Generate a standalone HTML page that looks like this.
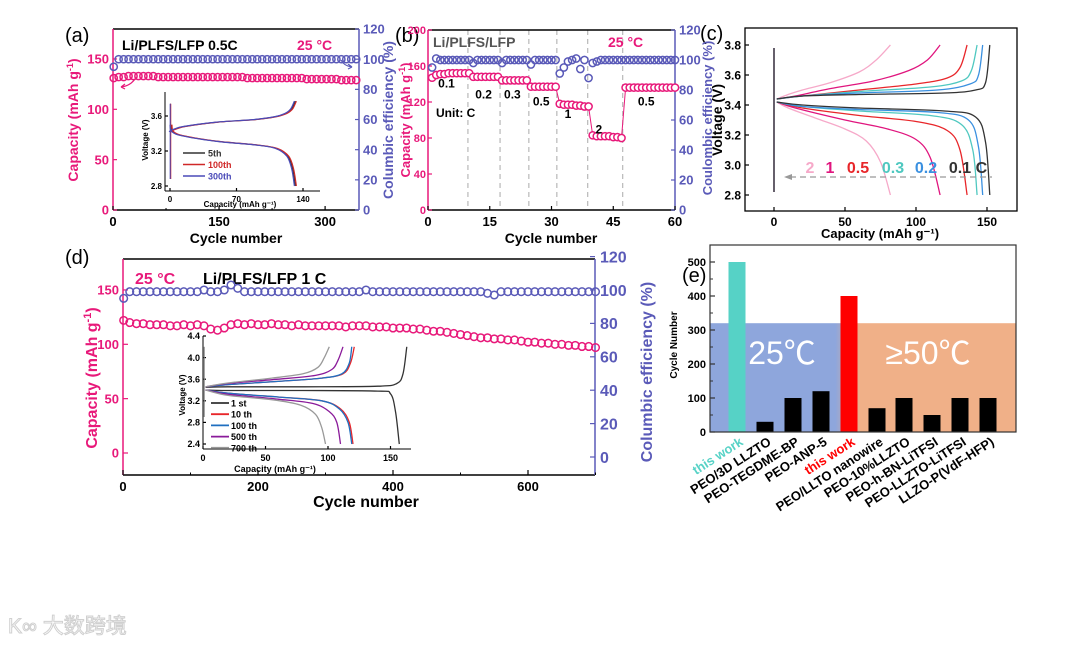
<!DOCTYPE html>
<html><head><meta charset="utf-8"><style>
html,body{margin:0;padding:0;background:#fff}
svg{display:block;font-family:"Liberation Sans",Arial,sans-serif;font-weight:bold}
</style></head><body>
<svg id="fig" width="1080" height="645" viewBox="0 0 1080 645" xmlns="http://www.w3.org/2000/svg">
<defs>
<linearGradient id="bgGrad" x1="0" x2="1" y1="0" y2="0">
<stop offset="0" stop-color="#8ea6dc"/><stop offset="0.41" stop-color="#8ea6dc"/>
<stop offset="0.49" stop-color="#f0b088"/><stop offset="1" stop-color="#f0b088"/>
</linearGradient>
</defs>
<text x="65" y="42" font-size="20" font-weight="normal">(a)</text>
<text x="395" y="42" font-size="20" font-weight="normal">(b)</text>
<text x="700" y="40" font-size="20" font-weight="normal">(c)</text>
<text x="65" y="264" font-size="20" font-weight="normal">(d)</text>
<text x="682" y="282" font-size="20" font-weight="normal">(e)</text>
<g>
<text x="8" y="633" font-size="21" fill="#fff" stroke="#d0d0d0" stroke-width="1" font-weight="normal" font-family="'Liberation Sans','Noto Sans CJK SC',sans-serif">K∞ 大数跨境</text>
</g>
</svg>
<script>
// ---------- data ----------
const cycA=[1,8,15,22,29,36,43,50,57,64,71,78,85,92,99,106,113,120,127,134,141,148,155,162,169,176,183,190,197,204,211,218,225,232,239,246,253,260,267,274,281,288,295,302,309,316,323,330,337,344];
const capA=[131,132,132,133,133,133,133,133,133,132,132,132,132,132,132,132,132,132,132,132,132,132,132,132,132,132,132,131,131,131,131,131,131,131,131,131,131,131,131,130,130,130,130,130,130,130,129,129,129,129];
const effA=[95,100,100,100,100,100,100,100,100,100,100,100,100,100,100,100,100,100,100,100,100,100,100,100,100,100,100,100,100,100,100,100,100,100,100,100,100,100,100,100,100,100,100,100,100,100,100,100,100,100];
const insetAcharge=[[0,3.42],[3,3.44],[15,3.48],[50,3.53],[90,3.56],[110,3.59],[122,3.63],[128,3.68],[132,3.77]];
const insetAdis=[[1,3.5],[3,3.42],[15,3.37],[50,3.31],[90,3.27],[112,3.23],[124,3.14],[129,3.0],[132,2.8]];
const insetAnames=['5th','100th','300th'];
const insetAshift=[0,1,-1];

const cycB=[1,2,3,4,5,6,7,8,9,10,11,12,13,14,15,16,17,18,19,20,21,22,23,24,25,26,27,28,29,30,31,32,33,34,35,36,37,38,39,40,41,42,43,44,45,46,47,48,49,50,51,52,53,54,55,56,57,58,59,60];
const capB=[147,150,151,151,152,152,152,152,152,152,148,148,148,148,148,148,148,144,144,144,144,144,144,144,137,137,137,137,137,137,137,118,117,117,117,116,116,115,115,83,82,82,82,82,81,81,80,136,136,136,136,136,136,136,136,136,136,136,136,136];
const effB=[95,101,100,100,100,100,100,100,100,100,98,100,100,100,100,100,100,98,100,100,100,100,100,100,97,100,100,100,100,100,100,91,95,99,100,101,94,100,88,98,99,100,100,100,100,100,100,100,100,100,100,100,100,100,100,100,100,100,100,100];
const rateBreaks=[9.7,17.5,24.5,31.3,38.8,47.3];
const rateLabels=['0.1','0.2','0.3','0.5','1','2','0.5'];
const rateLabelCycle=[4.5,13.5,20.5,27.5,34,41.5,53];
const rateLabelCap=[136,124,124,116,102,85,116];

const ratesC=['2','1','0.5','0.3','0.2','0.1 C'];
const chargeC=[
 [[2,3.44],[10,3.47],[20,3.5],[40,3.55],[60,3.62],[72,3.7],[82,3.8]],
 [[2,3.44],[15,3.46],[40,3.51],[70,3.56],[95,3.63],[108,3.7],[117,3.8]],
 [[2,3.44],[20,3.46],[60,3.5],[100,3.54],[122,3.58],[131,3.65],[136,3.8]],
 [[2,3.44],[20,3.46],[60,3.49],[110,3.52],[132,3.56],[139,3.63],[143,3.8]],
 [[2,3.44],[20,3.46],[60,3.48],[115,3.5],[138,3.54],[144,3.6],[147,3.8]],
 [[2,3.44],[20,3.46],[60,3.47],[120,3.48],[142,3.5],[149,3.55],[152,3.8]]];
const dischargeC=[
 [[2,3.42],[10,3.38],[30,3.31],[50,3.24],[65,3.16],[75,3.02],[82,2.8]],
 [[2,3.42],[15,3.38],[50,3.3],[80,3.24],[100,3.17],[110,3.05],[117,2.8]],
 [[2,3.42],[20,3.38],[60,3.33],[100,3.29],[122,3.23],[131,3.1],[136,2.8]],
 [[2,3.42],[20,3.39],[60,3.36],[110,3.33],[132,3.27],[140,3.1],[143,2.8]],
 [[2,3.42],[20,3.39],[60,3.37],[115,3.35],[137,3.3],[144,3.12],[147,2.8]],
 [[2,3.42],[20,3.4],[60,3.38],[120,3.36],[142,3.32],[149,3.15],[152,2.8]]];
const colorsC=['#f6a9c9','#e0157e','#e8262a','#4fc8c0','#3a90e0','#333333'];

const cycD=[1,10,20,30,40,50,60,70,80,90,100,110,120,130,140,150,160,170,180,190,200,210,220,230,240,250,260,270,280,290,300,310,320,330,340,350,360,370,380,390,400,410,420,430,440,450,460,470,480,490,500,510,520,530,540,550,560,570,580,590,600,610,620,630,640,650,660,670,680,690,700];
const capD=[122,120,119,119,118,118,118,117,117,118,117,118,117,114,113,115,118,119,118,119,118,118,119,118,118,117,118,117,117,117,117,117,117,116,117,117,117,116,116,116,115,115,115,114,114,113,112,112,111,110,109,108,107,106,106,105,105,104,104,103,102,102,101,101,100,100,99,99,98,98,97];
const effD=[95,99,99,99,99,99,99,99,99,99,99,99,100,99,99,100,103,101,99,99,99,99,99,99,99,99,99,99,99,99,99,99,99,99,99,99,100,99,99,99,99,99,99,99,99,99,99,99,99,99,99,99,99,99,98,97,99,99,99,99,99,99,99,99,99,99,99,99,99,99,99];
const insetDnames=['1 st','10 th','100 th','500 th','700 th'];
const insetDcolors=['#333333','#e8262a','#1f6fc0','#8a1a9a','#999999'];
const insetDcharge=[
 [[2,3.45],[20,3.46],[80,3.46],[140,3.47],[155,3.52],[160,3.7],[163,4.2]],
 [[2,3.46],[20,3.5],[60,3.56],[95,3.62],[112,3.7],[118,3.9],[121,4.2]],
 [[2,3.46],[20,3.5],[60,3.56],[95,3.62],[111,3.7],[117,3.9],[119,4.2]],
 [[2,3.46],[20,3.52],[60,3.6],[90,3.67],[103,3.78],[108,3.95],[112,4.2]],
 [[2,3.46],[20,3.53],[55,3.62],[80,3.7],[92,3.82],[97,4.0],[101,4.2]]];
const insetDdis=[
 [[2,3.4],[20,3.39],[80,3.39],[140,3.38],[150,3.33],[154,3.0],[157,2.4]],
 [[2,3.4],[20,3.34],[60,3.27],[95,3.2],[110,3.05],[117,2.8],[120,2.4]],
 [[2,3.4],[20,3.34],[60,3.27],[95,3.2],[109,3.05],[116,2.8],[119,2.4]],
 [[2,3.4],[20,3.32],[60,3.23],[88,3.15],[101,3.0],[107,2.8],[110,2.4]],
 [[2,3.4],[20,3.3],[55,3.22],[78,3.12],[90,2.95],[95,2.7],[98,2.4]]];

const catsE=['this work','PEO/3D LLZTO','PEO-TEGDME-BP','PEO-ANP-5','this work','PEO/LLTO nanowire','PEO-10%LLZTO','PEO-h-BN-LiTFSI','PEO-LLZTO-LiTFSI','LLZO-P(VdF-HFP)'];
const valsE=[500,30,100,120,400,70,100,50,100,100];
const colorsE=['#56d2c6','#000','#000','#000','#ff0000','#000','#000','#000','#000','#000'];
const labelColorsE=['#56d2c6','#000','#000','#000','#ff0000','#000','#000','#000','#000','#000'];

// ---------- helpers ----------
const NS='http://www.w3.org/2000/svg';
const svg=document.getElementById('fig');
const PINK='#e8197a', BLUE='#5a5ab8';
function mk(tag,name,attrs,parent){
  const e=document.createElementNS(NS,tag);
  for(const k in attrs) e.setAttribute(k,attrs[k]);
  
  
  (parent||svg).appendChild(e);
  return e;
}
function txt(name,x,y,s,attrs,parent){const t=mk('text',name,attrs,parent);t.textContent=s;t.setAttribute('x',x);t.setAttribute('y',y);return t;}
function line(name,x1,y1,x2,y2,stroke,w,parent,extra){return mk('line',name,Object.assign({x1,y1,x2,y2,stroke,'stroke-width':w},extra||{}),parent);}
function smooth(pts){
  let d='M'+pts[0][0].toFixed(1)+','+pts[0][1].toFixed(1);
  for(let i=0;i<pts.length-1;i++){
    const p0=pts[i-1]||pts[i],p1=pts[i],p2=pts[i+1],p3=pts[i+2]||p2;
    const c1=[p1[0]+(p2[0]-p0[0])/6,p1[1]+(p2[1]-p0[1])/6];
    const c2=[p2[0]-(p3[0]-p1[0])/6,p2[1]-(p3[1]-p1[1])/6];
    d+=' C'+c1[0].toFixed(1)+','+c1[1].toFixed(1)+' '+c2[0].toFixed(1)+','+c2[1].toFixed(1)+' '+p2[0].toFixed(1)+','+p2[1].toFixed(1);
  }
  return d;
}
function curve(name,data,sx,sy,color,w,g){
  return mk('path',name,{d:smooth(data.map(p=>[sx(p[0]),sy(p[1])])),fill:'none',stroke:color,'stroke-width':w},g);
}
function yTicks(g,x,vals,sy,side,color,fs,len,fmt,dx){
  vals.forEach(v=>{
    const y=sy(v);
    line('y-tick',x,y,x+(side<0?len:-len),y,color,1.2,g);
    txt('y-tick-label',x+(side<0?-(dx||4):(dx||4)),y+fs*0.36,fmt?fmt(v):String(v),{'font-size':fs,fill:color,'text-anchor':side<0?'end':'start'},g);
  });
}
function xTicks(g,y,vals,sx,fs,len,color,minor){
  vals.forEach(v=>{const x=sx(v);line('x-tick',x,y,x,y-len,'#000',1.2,g);txt('x-tick-label',x,y+fs+3,String(v),{'font-size':fs,'text-anchor':'middle',fill:color||'#000'},g);});
  (minor||[]).forEach(v=>{const x=sx(v);line('x-minor-tick',x,y,x,y-len/2,'#000',1,g);});
}
function vtitle(name,x,y,s,color,fs,g){
  const t=mk('text',name,{transform:'translate('+x+','+y+') rotate(-90)','font-size':fs,fill:color,'text-anchor':'middle'},g);
  t.innerHTML=s;return t;
}

// ---------- panel a ----------
(function(){
  const g=mk('g','panel-a',{});
  const X0=113,X1=359,T=29,B=210;
  const sx=c=>X0+c*0.707, sl=v=>B-v*1.007, sr=v=>B-v*1.508;
  line('top-axis',X0,T,X1,T,'#000',1.5,g);
  line('x-axis',X0,B,X1,B,'#000',1.5,g);
  line('left-axis',X0,T,X0,B,PINK,1.5,g);
  line('right-axis',X1,T,X1,B,BLUE,1.5,g);
  yTicks(g,X0,[0,50,100,150],sl,-1,PINK,13,4);
  yTicks(g,X1,[0,20,40,60,80,100,120],sr,1,BLUE,13,4);
  xTicks(g,B,[0,150,300],sx,13,4,'#000',[75,225]);
  txt('x-axis-title',236,243,'Cycle number',{'font-size':14,'text-anchor':'middle'},g);
  vtitle('left-axis-title',78,120,'Capacity (mAh g<tspan dy="-5" font-size="9">-1</tspan><tspan dy="5">)</tspan>',PINK,14,g);
  vtitle('right-axis-title',393,120,'Columbic efficiency (%)',BLUE,14,g);
  txt('cell-label',122,50,'Li/PLFS/LFP  0.5C',{'font-size':14},g);
  txt('temperature-label',297,50,'25 °C',{'font-size':14,fill:PINK},g);
  cycA.forEach((c,i)=>{mk('circle','efficiency-point',{cx:sx(c),cy:sr(effA[i]),r:3.6,fill:'none',stroke:BLUE,'stroke-width':1.5},g);});
  cycA.forEach((c,i)=>{mk('circle','capacity-point',{cx:sx(c),cy:sl(capA[i]),r:3.6,fill:'none',stroke:PINK,'stroke-width':1.5},g);});
  mk('path','capacity-arrow',{d:'M135,79 Q130,86 121,87 M121,87 l4,-3 M121,87 l4,2',fill:'none',stroke:PINK,'stroke-width':1.2},g);
  mk('path','efficiency-arrow',{d:'M341,60 Q344,66 352,67 M352,67 l-4,-3 M352,67 l-4,2',fill:'none',stroke:BLUE,'stroke-width':1.2},g);
  const ig=mk('g','inset-a',{},g);
  const iX0=165,iX1=320,iT=92,iB=191;
  const ix=c=>170+c*0.95, iy=v=>186-(v-2.8)*87.5;
  mk('rect','inset-a-frame',{x:iX0,y:iT,width:iX1-iX0,height:iB-iT,fill:'#fff',stroke:'none'},ig);
  line('inset-x-axis',iX0,iB,iX1,iB,'#000',1,ig);line('inset-y-axis',iX0,iT,iX0,iB,'#000',1,ig);
  yTicks(ig,iX0,[2.8,3.2,3.6],iy,-1,'#000',8,3,v=>v.toFixed(1),3);
  xTicks(ig,iB,[0,70,140],ix,8,3,'#000');
  txt('inset-x-title',240,207,'Capacity (mAh g⁻¹)',{'font-size':8,'text-anchor':'middle'},ig);
  vtitle('inset-y-title',148,140,'Voltage (V)','#000',8,ig);
  const cols=['#333','#d02828','#4a4ab8'];
  insetAnames.forEach((n,k)=>{
    const s=insetAshift[k];
    line('inset-spike',ix(0.5+s*0.3),iy(2.88),ix(0.5+s*0.3),iy(3.74),cols[k],1,ig);
    curve('charge-curve-'+n,insetAcharge.map(p=>[p[0]+s,p[1]]),ix,iy,cols[k],1.2,ig);
    curve('discharge-curve-'+n,insetAdis.map(p=>[p[0]+s,p[1]]),ix,iy,cols[k],1.2,ig);
    const ly=153+k*11.5;
    line('legend-line',183,ly,205,ly,cols[k],1.6,ig);
    txt('legend-entry',208,ly+3.5,n,{'font-size':9,fill:cols[k]},ig);
  });
})();

// ---------- panel b ----------
(function(){
  const g=mk('g','panel-b',{});
  const X0=428,X1=675,T=30,B=210;
  const sx=c=>X0+c*4.117, sl=v=>B-v*0.9, sr=v=>B-v*1.5;
  rateBreaks.forEach(c=>line('rate-divider',sx(c),T,sx(c),B,'#aaa',1,g,{'stroke-dasharray':'5,4'}));
  line('top-axis',X0,T,X1,T,'#000',1.5,g);
  line('x-axis',X0,B,X1,B,'#000',1.5,g);
  line('left-axis',X0,T,X0,B,PINK,1.5,g);
  line('right-axis',X1,T,X1,B,BLUE,1.5,g);
  yTicks(g,X0,[0,40,80,120,160,200],sl,-1,PINK,11,4,null,2);
  yTicks(g,X1,[0,20,40,60,80,100,120],sr,1,BLUE,13,4);
  xTicks(g,B,[0,15,30,45,60],sx,13,4,'#000');
  txt('x-axis-title',551,243,'Cycle number',{'font-size':14,'text-anchor':'middle'},g);
  vtitle('left-axis-title',410,120,'Capacity (mAh g<tspan dy="-5" font-size="9">-1</tspan><tspan dy="5">)</tspan>',PINK,13,g);
  vtitle('right-axis-title',712,118,'Coulombic efficiency (%)',BLUE,13,g);
  txt('cell-label',433,47,'Li/PLFS/LFP',{'font-size':14,fill:'#555'},g);
  txt('temperature-label',608,47,'25 °C',{'font-size':14,fill:PINK},g);
  txt('unit-label',436,117,'Unit: C',{'font-size':12},g);
  cycB.forEach((c,i)=>{mk('circle','efficiency-point',{cx:sx(c),cy:sr(effB[i]),r:3.6,fill:'none',stroke:BLUE,'stroke-width':1.5},g);});
  mk('polyline','capacity-line',{points:cycB.map((c,i)=>sx(c)+','+sl(capB[i])).join(' '),fill:'none',stroke:PINK,'stroke-width':1},g);
  cycB.forEach((c,i)=>{mk('circle','capacity-point',{cx:sx(c),cy:sl(capB[i]),r:3.6,fill:'#fff',stroke:PINK,'stroke-width':1.5},g);});
  rateLabels.forEach((s,i)=>txt('rate-label',sx(rateLabelCycle[i]),sl(rateLabelCap[i]),s,{'font-size':12,'text-anchor':'middle'},g));
})();

// ---------- panel c ----------
(function(){
  const g=mk('g','panel-c',{});
  const X0=745,X1=1017,T=28,B=211;
  const sx=c=>774+c*1.42, sy=v=>195-(v-2.8)*150;
  mk('rect','plot-frame',{x:X0,y:T,width:X1-X0,height:B-T,fill:'none',stroke:'#000','stroke-width':1.3},g);
  yTicks(g,X0,[2.8,3.0,3.2,3.4,3.6,3.8],sy,-1,'#000',12,4,v=>v.toFixed(1));
  xTicks(g,B,[0,50,100,150],sx,12,4,'#000');
  txt('x-axis-title',880,238,'Capacity (mAh g⁻¹)',{'font-size':13,'text-anchor':'middle'},g);
  vtitle('y-axis-title',722,120,'Voltage (V)','#000',14,g);
  colorsC.forEach((col,k)=>{
    line('initial-spike',sx(0),sy(2.82),sx(0),sy(3.78),col,1.2,g);
    curve('charge-curve-'+ratesC[k],chargeC[k],sx,sy,col,1.3,g);
    curve('discharge-curve-'+ratesC[k],dischargeC[k],sx,sy,col,1.3,g);
  });
  const lx=[810,830,858,893,926,968];
  ratesC.forEach((r,k)=>txt('rate-legend-'+k,lx[k],173,r,{'font-size':16,fill:colorsC[k],'text-anchor':'middle'},g));
  line('rate-arrow',790,177,992,177,'#999',1.3,g,{'stroke-dasharray':'6,4'});
  mk('path','rate-arrowhead',{d:'M784,177 l8,-3 v6 z',fill:'#999'},g);
})();

// ---------- panel d ----------
(function(){
  const g=mk('g','panel-d',{});
  const X0=123,X1=595,T=259,B=475;
  const sx=c=>X0+c*0.675, sl=v=>453-v*1.087, sr=v=>457-v*1.67;
  line('top-axis',X0,T,X1,T,'#000',1.5,g);
  line('x-axis',X0,B,X1,B,'#000',1.5,g);
  line('left-axis',X0,T,X0,B,PINK,1.5,g);
  line('right-axis',X1,T,X1,B,BLUE,1.5,g);
  yTicks(g,X0,[0,50,100,150],sl,-1,PINK,13,5);
  yTicks(g,X1,[0,20,40,60,80,100,120],sr,1,BLUE,16,5,null,5);
  xTicks(g,B,[0,200,400,600],sx,13,5,'#000',[100,300,500,700]);
  txt('x-axis-title',366,507,'Cycle number',{'font-size':16,'text-anchor':'middle'},g);
  vtitle('left-axis-title',97,378,'Capacity (mAh g<tspan dy="-6" font-size="11">-1</tspan><tspan dy="6">)</tspan>',PINK,16,g);
  vtitle('right-axis-title',652,372,'Columbic efficiency (%)',BLUE,16,g);
  txt('temperature-label',135,284,'25 °C',{'font-size':16,fill:PINK},g);
  txt('cell-label',203,284,'Li/PLFS/LFP   1 C',{'font-size':16},g);
  cycD.forEach((c,i)=>{mk('circle','efficiency-point',{cx:sx(c),cy:sr(effD[i]),r:3.8,fill:'none',stroke:BLUE,'stroke-width':1.5},g);});
  cycD.forEach((c,i)=>{mk('circle','capacity-point',{cx:sx(c),cy:sl(capD[i]),r:3.8,fill:'none',stroke:PINK,'stroke-width':1.5},g);});
  const ig=mk('g','inset-d',{},g);
  const iX0=203,iX1=411,iT=336,iB=449;
  const ix=c=>203+c*1.25, iy=v=>444-(v-2.4)*54;
  mk('rect','inset-d-frame',{x:iX0,y:iT,width:iX1-iX0,height:iB-iT,fill:'#fff',stroke:'none'},ig);
  line('inset-x-axis',iX0,iB,iX1,iB,'#000',1,ig);line('inset-y-axis',iX0,iT,iX0,iB,'#000',1,ig);
  yTicks(ig,iX0,[2.4,2.8,3.2,3.6,4.0,4.4],iy,-1,'#000',9,3,v=>v.toFixed(1),3);
  xTicks(ig,iB,[0,50,100,150],ix,9,3,'#000');
  txt('inset-x-title',275,472,'Capacity (mAh g⁻¹)',{'font-size':9,'text-anchor':'middle'},ig);
  vtitle('inset-y-title',185,395,'Voltage (V)','#000',8,ig);
  insetDnames.forEach((n,k)=>{
    const col=insetDcolors[k];
    curve('charge-curve-'+n,insetDcharge[k],ix,iy,col,1.3,ig);
    curve('discharge-curve-'+n,insetDdis[k],ix,iy,col,1.3,ig);
    const ly=403+k*11.2;
    line('legend-line',211,ly,229,ly,col,1.8,ig);
    txt('legend-entry',231,ly+3.5,n,{'font-size':9},ig);
  });
  line('inset-spike',ix(1),iy(2.9),ix(1),iy(4.2),'#888',1,ig);
})();

// ---------- panel e ----------
(function(){
  const g=mk('g','panel-e',{});
  const X0=710,X1=1016,T=245,B=432;
  const sy=v=>B-v*0.34;
  const centers=[737,765,793,821,849,877,904,932,960,988];
  mk('rect','temperature-background',{x:X0,y:sy(320),width:X1-X0,height:B-sy(320),fill:'url(#bgGrad)'},g);
  txt('25c-label',782,364,'25℃',{'font-size':32,fill:'#fff','text-anchor':'middle','font-weight':'normal','font-family':"'Liberation Sans','Noto Sans CJK SC',sans-serif"},g);
  txt('50c-label',928,364,'≥50℃',{'font-size':32,fill:'#fff','text-anchor':'middle','font-weight':'normal','font-family':"'Liberation Sans','Noto Sans CJK SC',sans-serif"},g);
  valsE.forEach((v,i)=>{
    mk('rect','bar-'+i,{x:centers[i]-8.5,y:sy(v),width:17,height:B-sy(v),fill:colorsE[i]},g);
    const t=mk('text','category-label',{transform:'translate('+(centers[i]+7)+','+(B+12)+') rotate(-33)','font-size':13,'text-anchor':'end',fill:labelColorsE[i]},g);
    t.textContent=catsE[i];
  });
  mk('rect','plot-frame',{x:X0,y:T,width:X1-X0,height:B-T,fill:'none',stroke:'#333','stroke-width':1.2},g);
  [0,100,200,300,400,500].forEach(v=>{line('y-tick',X0,sy(v),X0+5,sy(v),'#333',1.2,g);txt('y-tick-label',X0-4,sy(v)+4,String(v),{'font-size':11,'text-anchor':'end'},g);});
  [50,150,250,350,450].forEach(v=>line('y-minor-tick',X0,sy(v),X0+3,sy(v),'#333',1,g));
  vtitle('y-axis-title',677,345,'Cycle Number','#000',10,g);
})();
</script>
</body></html>
